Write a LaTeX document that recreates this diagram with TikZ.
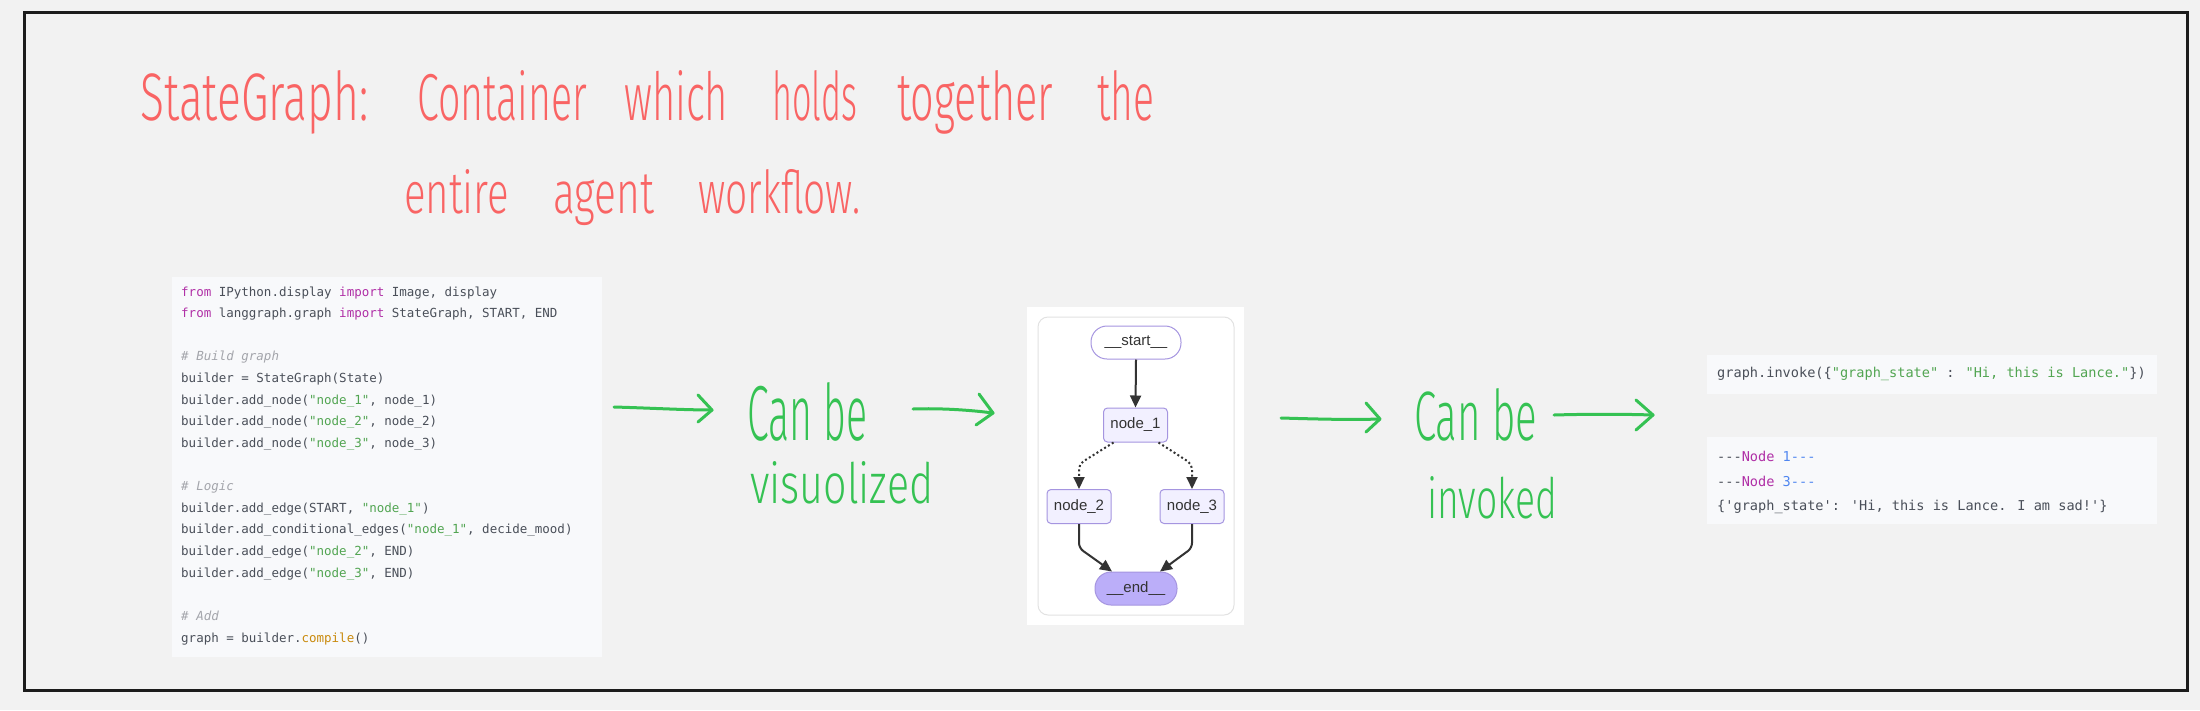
\documentclass[tikz,border=0pt]{standalone}
\usepackage{fontspec}
\usepackage{graphicx}
\usetikzlibrary{arrows.meta}
\setmainfont{Liberation Sans}
\newfontfamily\code{DejaVu Sans Mono}[Ligatures=TeXOff]
\newfontfamily\hand{Fira Sans Light}
\newfontfamily\gfont{Liberation Sans}
\definecolor{bg}{HTML}{F2F2F2}
\definecolor{frame}{HTML}{1C1C1C}
\definecolor{codebg}{HTML}{F8F9FB}
\definecolor{ctext}{HTML}{4A4F59}
\definecolor{ckwc}{HTML}{B02FA6}
\definecolor{cstrc}{HTML}{52A552}
\definecolor{ccomc}{HTML}{A3A5AB}
\definecolor{cfnc}{HTML}{C98A0C}
\definecolor{cbluc}{HTML}{4F86F0}
\definecolor{hred}{HTML}{F96464}
\definecolor{hgreen}{HTML}{35C253}
\definecolor{gstroke}{HTML}{A595E0}
\definecolor{gfill}{HTML}{F2F0FF}
\definecolor{gendfill}{HTML}{BBAEF9}
\definecolor{gedge}{HTML}{333333}
\definecolor{panelline}{HTML}{E2E2E2}
\newcommand\ckw[1]{\textcolor{ckwc}{#1}}
\newcommand\cstr[1]{\textcolor{cstrc}{#1}}
\newcommand\ccom[1]{\textcolor{ccomc}{\itshape #1}}
\newcommand\cfn[1]{\textcolor{cfnc}{#1}}
\newcommand\cblu[1]{\textcolor{cbluc}{#1}}
\newcommand\hw[3]{\resizebox{#1pt}{#2pt}{\hand\vphantom{hl}#3}}
\tikzset{
  codeL/.style={anchor=west, inner sep=0pt, text height=9pt, text depth=3pt,
    text=ctext, font=\code\fontsize{12.5}{15}\selectfont},
  codeR/.style={anchor=west, inner sep=0pt, text height=10pt, text depth=3pt,
    text=ctext, font=\code\fontsize{13.6}{16}\selectfont},
  codebox/.style={fill=codebg, draw=none},
  handred/.style={anchor=base west, inner sep=0pt, text=hred},
  handgreen/.style={anchor=base west, inner sep=0pt, text=hgreen},
  sketch/.style={draw=hgreen, line width=3pt, line cap=round, line join=round},
  gbox/.style={draw=gstroke, fill=gfill, line width=1pt, rounded corners=4pt,
    minimum width=64pt, minimum height=34pt, inner sep=0pt, text=gedge,
    font=\gfont\fontsize{15}{16}\selectfont},
  gpill/.style={gbox, rounded corners=16pt, minimum height=33pt},
  gedgeline/.style={draw=gedge, line width=2pt, rounded corners=5pt,
    -{Triangle[length=12pt,width=11pt]}},
  gdotline/.style={gedgeline, dash pattern=on 2pt off 2.5pt}
}
\begin{document}
\begin{tikzpicture}[x=1pt,y=-1pt]
\useasboundingbox (0,0) rectangle (2200,710);
\fill[bg] (0,0) rectangle (2200,710);
\draw[frame, line width=3pt] (24.7,12.8) rectangle (2187.3,690.5);

% handwritten title
\node[handred] (w1) at (140,120) {\hw{228}{50}{StateGraph:}};
\node[handred] (w2) at (417,120) {\hw{170}{50}{Container}};
\node[handred] (w3) at (624,120) {\hw{104}{50}{which}};
\node[handred] (w4) at (772,120) {\hw{85}{50}{holds}};
\node[handred] (w5) at (897,120) {\hw{156}{50}{together}};
\node[handred] (w6) at (1097,120) {\hw{57}{50}{the}};
\node[handred] (w7) at (404,213) {\hw{105}{44}{entire}};
\node[handred] (w8) at (553,213) {\hw{101}{44}{agent}};
\node[handred] (w9) at (698,213) {\hw{162}{44}{workflow.}};

% left code block
\fill[codebox] (172,277) rectangle (602,657);
\node[codeL] (c1) at (181,293) {\ckw{from} IPython.display \ckw{import} Image, display};
\node[codeL] (c2) at (181,314.6) {\ckw{from} langgraph.graph \ckw{import} StateGraph, START, END};
\node[codeL] (c3) at (181,357.9) {\ccom{\# Build graph}};
\node[codeL] (c4) at (181,379.5) {builder = StateGraph(State)};
\node[codeL] (c5) at (181,401.1) {builder.add\_node(\cstr{"node\_1"}, node\_1)};
\node[codeL] (c6) at (181,422.8) {builder.add\_node(\cstr{"node\_2"}, node\_2)};
\node[codeL] (c7) at (181,444.4) {builder.add\_node(\cstr{"node\_3"}, node\_3)};
\node[codeL] (c8) at (181,487.6) {\ccom{\# Logic}};
\node[codeL] (c9) at (181,509.3) {builder.add\_edge(START, \cstr{"node\_1"})};
\node[codeL] (c10) at (181,530.9) {builder.add\_conditional\_edges(\cstr{"node\_1"}, decide\_mood)};
\node[codeL] (c11) at (181,552.5) {builder.add\_edge(\cstr{"node\_2"}, END)};
\node[codeL] (c12) at (181,574.1) {builder.add\_edge(\cstr{"node\_3"}, END)};
\node[codeL] (c13) at (181,617.4) {\ccom{\# Add}};
\node[codeL] (c14) at (181,639) {graph = builder.\cfn{compile}()};

% green sketch
\node[handgreen] (g1) at (747,440) {\hw{120}{58}{Can be}};
\node[handgreen] (g2) at (750,503) {\hw{183}{42}{visuolized}};
\node[handgreen] (g3) at (1414,440) {\hw{123}{52}{Can be}};
\node[handgreen] (g4) at (1427,518) {\hw{130}{42}{invoked}};

\coordinate (a1s) at (614,407);
\coordinate (a1e) at (712,410);
\draw[sketch] (a1s) .. controls (650,408) and (685,410) .. (a1e);
\draw[sketch] (698,395) -- (a1e) -- (698,422);
\coordinate (a2s) at (913,409);
\coordinate (a2e) at (993,413);
\draw[sketch] (a2s) .. controls (940,408) and (970,410) .. (a2e);
\draw[sketch] (979,394) -- (a2e) -- (976,425);
\coordinate (a3s) at (1281,418);
\coordinate (a3e) at (1380,419);
\draw[sketch] (a3s) .. controls (1315,419) and (1350,420) .. (a3e);
\draw[sketch] (1366,403) -- (a3e) -- (1366,432);
\coordinate (a4s) at (1554,415);
\coordinate (a4e) at (1653,415);
\draw[sketch] (a4s) .. controls (1590,414) and (1620,414) .. (a4e);
\draw[sketch] (1636,400) -- (a4e) -- (1636,430);

% graph panel
\fill[white] (1027,307) rectangle (1244,625);
\draw[panelline, fill=white, line width=1pt, rounded corners=10pt] (1038,317) rectangle (1234,615);
\node[gpill, fill=white, minimum width=90pt] (gstart) at (1136,342.5) {\_\_start\_\_};
\node[gbox] (gn1) at (1135.5,425) {node\_1};
\node[gbox] (gn2) at (1079,506.5) {node\_2};
\node[gbox] (gn3) at (1192,506.5) {node\_3};
\node[gpill, fill=gendfill, minimum width=82pt] (gend) at (1136,588.5) {\_\_end\_\_};
\draw[gedgeline] (gstart.south) -- (gn1.north);
\draw[gdotline] ([xshift=-22pt]gn1.south) -- ([yshift=25pt]gn2.north) -- (gn2.north);
\draw[gdotline] ([xshift=23pt]gn1.south) -- ([yshift=25pt]gn3.north) -- (gn3.north);
\draw[gedgeline] (gn2.south) -- ([yshift=-24pt]gn2.south) -- ([xshift=-24pt]gend.north);
\draw[gedgeline] (gn3.south) -- ([yshift=-24pt]gn3.south) -- ([xshift=24pt]gend.north);

% right code blocks
\fill[codebox] (1707,355) rectangle (2157,394);
\node[codeR] (r1) at (1717,374) {graph.invoke(\{\cstr{"graph\_state"} : \cstr{"Hi, this is Lance."}\})};
\fill[codebox] (1707,437) rectangle (2157,524);
\node[codeR] (r2) at (1717,458) {-{}-{}-\ckw{Node} \cblu{1-{}-{}-}};
\node[codeR] (r3) at (1717,483) {-{}-{}-\ckw{Node} \cblu{3-{}-{}-}};
\node[codeR] (r4) at (1717,507) {\{'graph\_state': 'Hi, this is Lance. I am sad!'\}};
\end{tikzpicture}
\end{document}
